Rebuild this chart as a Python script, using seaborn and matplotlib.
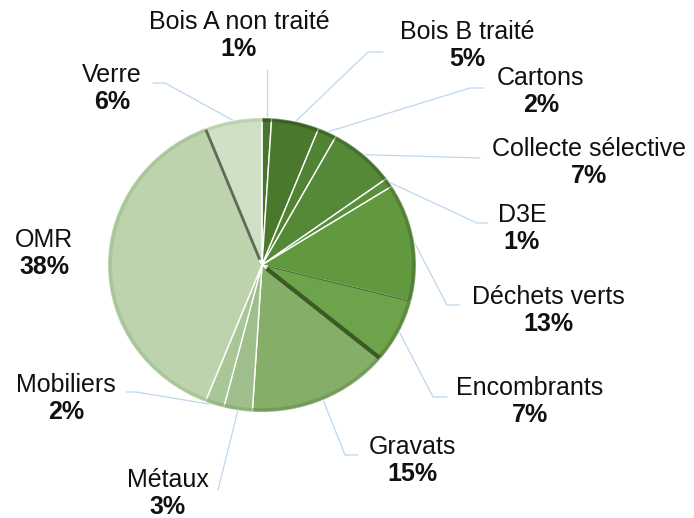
import numpy as np
import matplotlib
matplotlib.use("Agg")
import matplotlib.pyplot as plt
import seaborn as sns

sns.set_theme(style="white")
plt.rcParams["font.family"] = ["Liberation Sans", "DejaVu Sans"]

# Waste stream shares (%)
categories = ["Bois A non traité", "Bois B traité", "Cartons", "Collecte sélective",
              "D3E", "Déchets verts", "Encombrants", "Gravats", "Métaux",
              "Mobiliers", "OMR", "Verre"]
shares = [1, 5, 2, 7, 1, 13, 7, 15, 3, 2, 38, 6]

colors = ["#47762b", "#4a792e", "#508332", "#558937", "#5a9039", "#62993e",
          "#6da34b", "#85ae69", "#9fbe8b", "#a9c697", "#bcd3ae", "#d0e0c6"]
rim_colors = [sns.utils.set_hls_values(c, l=max(0.0, sns.utils.colorsys.rgb_to_hls(
    *matplotlib.colors.to_rgb(c))[1] - 0.12)) for c in colors]
explode = [0, 0, 0, 0, 0, 0, 0, 0, 0, 0.02, 0.035, 0.0]

W, H = 694, 518
K = 0.955                      # vertical squash of the pie (slight tilt)
fig = plt.figure(figsize=(W / 100, H / 100), dpi=100)
ax = fig.add_axes([0, 0, 1, 1])


def Y(ypix):
    """pixel row (from top) -> data y"""
    return (H - ypix) / K


cx, cy, R = 262, Y(265), 154

wedges, _ = ax.pie(shares, startangle=90, counterclock=False, colors=colors,
                   explode=explode, center=(cx, cy), radius=R,
                   wedgeprops=dict(edgecolor="white", linewidth=1.0))
# darker bevel along the rim
ax.pie(shares, startangle=90, counterclock=False, colors=rim_colors,
       explode=explode, center=(cx, cy), radius=R,
       wedgeprops=dict(width=4, edgecolor="none", alpha=0.55))
ax.set_aspect("auto")
ax.set_xlim(0, W)
ax.set_ylim(0, H / K)
ax.axis("off")

# side faces visible at a few slice boundaries
bounds = np.cumsum([0] + shares)
for idx, col, lw in [(7, "#3b5a26", 3.0), (6, "#4d7a33", 1.2), (11, "#5f6a58", 2.0)]:
    ang = np.deg2rad(90 - bounds[idx] / 100 * 360)
    ax.plot([cx + 6 * np.cos(ang), cx + R * 0.99 * np.cos(ang)],
            [cy + 6 * np.sin(ang), cy + R * 0.99 * np.sin(ang)],
            color=col, lw=lw, solid_capstyle="butt", zorder=3)

# label layout: text centre, elbow point, horizontal end (pixel coords, y down)
layout = {
    "Bois A non traité": ((239, 22), None, None),
    "Bois B traité": ((467, 32), (368, 52), (383, 52)),
    "Cartons": ((541, 78), (470, 88), (484, 88)),
    "Collecte sélective": ((589, 149), (480, 158), (480, 158)),
    "D3E": ((522, 215), (477, 223), (488, 223)),
    "Déchets verts": ((548, 297), (447, 305), (460, 305)),
    "Encombrants": ((530, 388), (433, 397), (447, 397)),
    "Gravats": ((412, 447), (345, 455), (358, 455)),
    "Métaux": ((168, 480), (218, 490), (218, 490)),
    "Mobiliers": ((66, 385), (136, 392), (126, 392)),
    "OMR": ((44, 240), None, None),
    "Verre": ((112, 75), (165, 83), (153, 83)),
}

line_color = "#bdd7ee"
fs = 18
for w, name, val in zip(wedges, categories, shares):
    (tx, ty), elbow, hend = layout[name]
    ax.text(tx, Y(ty), name, ha="center", va="center", fontsize=fs, color="#111111")
    ax.text(tx, Y(ty + 27), f"{val}%", ha="center", va="center", fontsize=fs,
            fontweight="bold", color="#111111")
    mid = np.deg2rad((w.theta1 + w.theta2) / 2)
    wx, wy = w.center
    px, py = wx + w.r * np.cos(mid), wy + w.r * np.sin(mid)
    if name == "Bois A non traité":
        ax.plot([px, px], [py, Y(70)], color=line_color, lw=0.9, zorder=0)
    elif elbow is not None:
        ax.plot([px, elbow[0], hend[0]], [py, Y(elbow[1]), Y(hend[1])],
                color=line_color, lw=0.9, zorder=0)

fig.savefig("out.png", dpi=100, facecolor="white")
